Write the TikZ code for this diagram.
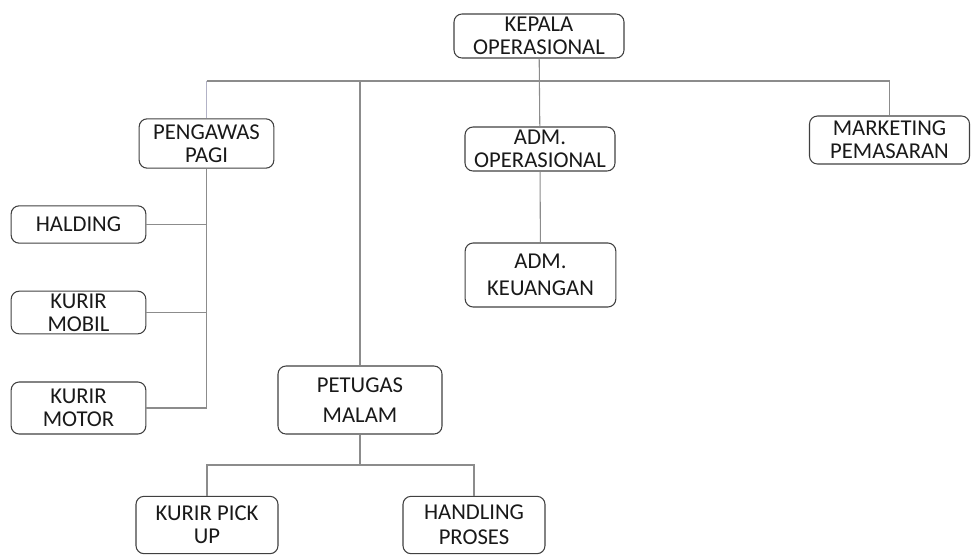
\documentclass[tikz,border=0pt]{standalone}
\usepackage{fontspec}
\setmainfont{Carlito}
\usepackage{tikz}

\begin{document}
\begin{tikzpicture}[
    x=0.75pt, y=-0.75pt,
    box/.style = {draw=black!75, line width=0.8pt, rounded corners=6pt, align=center,
      inner sep=0pt, text=black!90, font=\fontsize{17}{17.5}\selectfont},
    link/.style = {draw=black!45, line width=0.8pt}
  ]
    \useasboundingbox (0,0) rectangle (971,554);
    \node[box, minimum width=127.5pt, minimum height=33pt] (kepala) at (539,36) {KEPALA\\OPERASIONAL};
    \node[box, minimum width=101pt, minimum height=37pt] (pengawas) at (206.5,143.5) {PENGAWAS\\PAGI};
    \node[box, minimum width=101pt, minimum height=28pt] (halding) at (78.5,224.5) {HALDING};
    \node[box, minimum width=101pt, minimum height=32pt] (mobil) at (78.5,312.5) {KURIR\\MOBIL};
    \node[box, minimum width=101pt, minimum height=39pt] (motor) at (78.5,408) {KURIR\\MOTOR};
    \node[box, minimum width=123pt, minimum height=51pt] (petugas) at (360,400) {PETUGAS\\[5pt]MALAM};
    \node[box, minimum width=106.5pt, minimum height=43pt] (pickup) at (207,525) {KURIR PICK\\UP};
    \node[box, minimum width=106.5pt, minimum height=43pt] (handling) at (474,525) {HANDLING\\[1pt]PROSES};
    \node[box, minimum width=112.5pt, minimum height=33pt] (admop) at (540,149) {ADM.\\OPERASIONAL};
    \node[box, minimum width=113pt, minimum height=48pt] (admkeu) at (540.5,275) {ADM.\\[3pt]KEUANGAN};
    \node[box, minimum width=120pt, minimum height=36pt] (marketing) at (889.5,140) {MARKETING\\PEMASARAN};
    \coordinate (bus) at (539,81);
    \coordinate (split) at (360,465);
    % top level
    \draw[link] (kepala) -- (admop);
    \draw[link] (pengawas.north |- bus) -| (marketing.north);
    \draw[link] (bus) -| (petugas.north);
    \draw[draw=blue!25!black!30, line width=0.8pt] (pengawas.north) -- (pengawas.north |- bus);
    \draw[link] (admop) -- (admkeu);
    % pengawas pagi
    \draw[link] (pengawas.south) -- (pengawas.south |- motor);
    \draw[link] (halding) -- (halding -| pengawas);
    \draw[link] (mobil) -- (mobil -| pengawas);
    \draw[link] (motor) -- (motor -| pengawas);
    % petugas malam
    \draw[link] (petugas) -- (split);
    \draw[link] (pickup.north) |- (split) -| (handling.north);
\end{tikzpicture}
\end{document}
